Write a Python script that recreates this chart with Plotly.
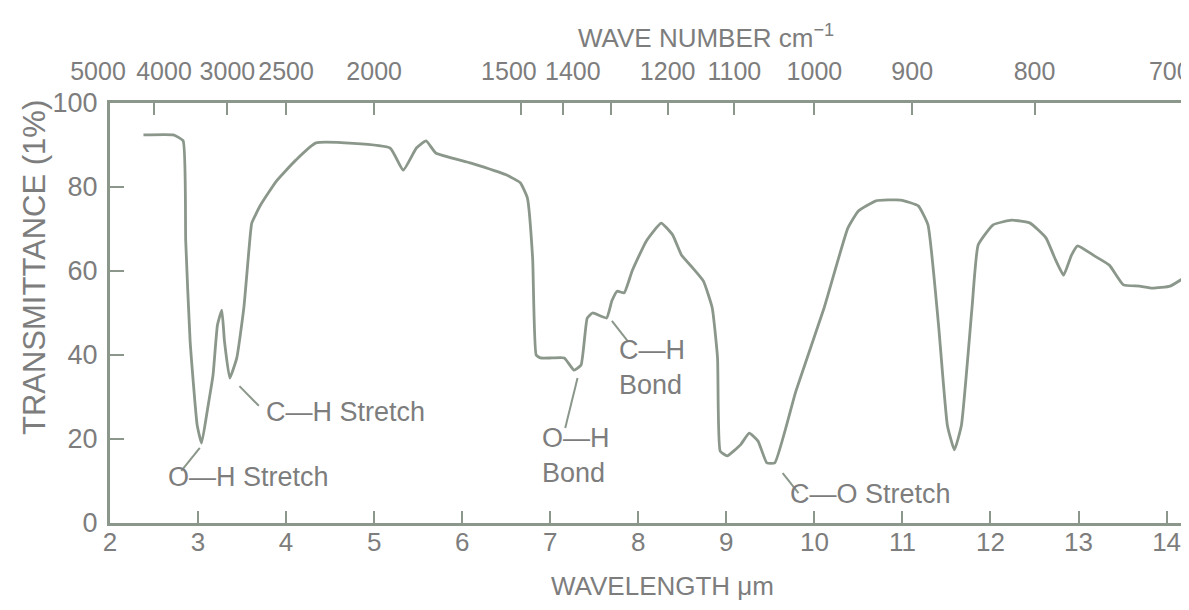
import plotly.graph_objects as go

# ---- data ----
wavelength_um = [2.38, 2.72, 2.83, 2.86, 2.91, 2.99, 3.04, 3.11, 3.17, 3.22, 3.27, 3.30, 3.36,
                 3.44, 3.52, 3.58, 3.61, 3.71, 3.89, 4.11, 4.34, 5.18, 5.33, 5.48, 5.59, 5.70,
                 6.10, 6.50, 6.66, 6.74, 6.80, 6.84, 6.89, 7.02, 7.16, 7.27, 7.35, 7.42, 7.48,
                 7.64, 7.70, 7.76, 7.84, 7.93, 8.09, 8.26, 8.39, 8.49, 8.62, 8.74, 8.84, 8.90,
                 8.93, 9.01, 9.16, 9.26, 9.36, 9.46, 9.55, 9.79, 10.11, 10.38, 10.50, 10.70,
                 10.98, 11.18, 11.29, 11.41, 11.51, 11.59, 11.67, 11.79, 11.86, 12.03, 12.24,
                 12.45, 12.63, 12.73, 12.83, 12.92, 12.99, 13.18, 13.35, 13.51, 13.69, 13.84,
                 14.04, 14.23]
transmittance = [92.4, 92.4, 91.0, 67.1, 43.3, 23.3, 19.0, 27.4, 35.2, 47.1, 50.7, 43.3, 34.5,
                 39.3, 51.2, 65.5, 71.4, 75.7, 81.4, 86.4, 90.5, 89.3, 84.0, 89.3, 91.0, 88.1,
                 85.7, 82.9, 81.0, 77.4, 63.1, 40.0, 39.3, 39.3, 39.3, 36.4, 37.6, 48.8, 50.0,
                 48.8, 52.9, 55.2, 54.8, 60.0, 67.1, 71.4, 68.6, 63.8, 60.7, 57.6, 51.2, 39.3,
                 17.1, 16.0, 18.6, 21.4, 19.5, 14.3, 14.3, 31.4, 51.2, 70.2, 74.3, 76.7,
                 76.9, 75.5, 71.0, 47.1, 23.3, 17.4, 23.3, 51.2, 66.2, 71.0, 72.1,
                 71.4, 67.9, 63.1, 59.0, 63.8, 66.0, 63.6, 61.4, 56.7, 56.4, 55.9,
                 56.4, 58.8]

bottom_ticks = [2, 3, 4, 5, 6, 7, 8, 9, 10, 11, 12, 13, 14]
y_ticks = [0, 20, 40, 60, 80, 100]
# top axis: wave numbers (cm^-1); tick marks at all, labels in groups
wavenumber_ticks = [4000, 3000, 2500, 2000, 1500, 1400, 1300, 1200, 1100, 1000, 900, 800, 700]
wn_labels_plain = [3000, 2500, 2000, 1200, 1100, 1000, 900, 800]
wn_labels_right = [4000, 1400]   # crowded pairs: nudged apart
wn_labels_left = [5000, 1500]
wn_labels_edge = [700]           # at the right edge: nudged inside

# annotation labels: (text, x, y, align)
labels = [
    ("O—H Stretch", 3.57, 11.0, "center"),
    ("C—H Stretch", 4.67, 26.5, "center"),
    ("O—H<br>Bond", 6.88, 16.0, "left"),
    ("C—H<br>Bond", 7.76, 37.0, "left"),
    ("C—O Stretch", 9.70, 7.0, "left"),
]
# leader lines: (x0, y0, x1, y1)
leaders = [
    (2.81, 12.4, 3.02, 17.9),
    (3.47, 32.6, 3.69, 27.9),
    (7.31, 34.5, 7.17, 22.6),
    (7.70, 48.1, 7.88, 43.3),
    (9.64, 11.9, 9.82, 7.1),
]

X_RANGE = [2, 14.3]
LINE = "#8b978b"
TEXT = "#7d7d7d"
FONT = "Liberation Sans, Arial, sans-serif"

fig = go.Figure()
fig.add_trace(go.Scatter(x=wavelength_um, y=transmittance, mode="lines",
                         line=dict(color=LINE, width=2.8, shape="spline", smoothing=0.4),
                         showlegend=False, hoverinfo="skip"))
# invisible anchors for the top axes
for ax in ["x2", "x3", "x4", "x5", "x6"]:
    fig.add_trace(go.Scatter(x=[X_RANGE[0]], y=[0], xaxis=ax, mode="markers",
                             marker=dict(opacity=0), showlegend=False, hoverinfo="skip"))

for t, x, y, al in labels:
    fig.add_annotation(x=x, y=y, xref="x", yref="y", text=t, showarrow=False,
                       align=al, xanchor="left" if al == "left" else "center",
                       font=dict(size=27, color=TEXT, family=FONT))
for x0, y0, x1, y1 in leaders:
    fig.add_shape(type="line", x0=x0, y0=y0, x1=x1, y1=y1, xref="x", yref="y",
                  line=dict(color=LINE, width=2))

fig.add_annotation(x=0.55, y=1, xref="paper", yref="paper", yshift=48,
                   text="WAVE NUMBER cm<sup>−1</sup>", showarrow=False,
                   xanchor="center", yanchor="bottom",
                   font=dict(size=26, color=TEXT, family=FONT))
fig.add_annotation(x=0, y=0.607, xref="paper", yref="paper", xshift=-76,
                   text="TRANSMITTANCE (1%)", showarrow=False, textangle=-90,
                   xanchor="center", yanchor="middle",
                   font=dict(size=31, color=TEXT, family=FONT))
fig.add_annotation(x=0.51, y=0, xref="paper", yref="paper", yshift=-46,
                   text="WAVELENGTH μm", showarrow=False,
                   xanchor="center", yanchor="top",
                   font=dict(size=26, color=TEXT, family=FONT))


def top_label_axis(vals, shift):
    return dict(range=X_RANGE, overlaying="x", side="top", tickangle=0, automargin=False,
                tickvals=[10000 / w for w in vals], ticktext=[str(w) for w in vals],
                ticks="", showline=False, showgrid=False, zeroline=False,
                tickfont=dict(size=25, color=TEXT), ticklabelstandoff=17,
                ticklabelshift=shift, ticklabeloverflow="allow")


fig.update_layout(
    width=1189, height=610,
    margin=dict(l=102, r=4, t=95, b=95, autoexpand=False),
    paper_bgcolor="white", plot_bgcolor="white",
    font=dict(family=FONT, color=TEXT, size=26),
    xaxis=dict(range=X_RANGE, tickvals=bottom_ticks, ticks="inside", ticklen=12,
               tickwidth=2, tickcolor=LINE, showline=True, linecolor=LINE, linewidth=3,
               showgrid=False, zeroline=False, tickfont=dict(size=26, color=TEXT),
               ticklabelstandoff=-6, automargin=False),
    xaxis2=dict(range=X_RANGE, overlaying="x", side="top", automargin=False,
                tickvals=[10000 / w for w in wavenumber_ticks], showticklabels=False,
                ticks="inside", ticklen=12, tickwidth=2, tickcolor=LINE,
                showline=True, linecolor=LINE, linewidth=3, showgrid=False, zeroline=False),
    xaxis3=top_label_axis(wn_labels_plain, 0),
    xaxis4=top_label_axis(wn_labels_right, 10),
    xaxis5=top_label_axis(wn_labels_left, -12),
    xaxis6=top_label_axis(wn_labels_edge, -22),
    yaxis=dict(range=[0, 100], tickvals=y_ticks, ticks="inside", ticklen=14, tickwidth=2,
               tickcolor=LINE, showline=True, linecolor=LINE, linewidth=3, showgrid=False,
               zeroline=False, tickfont=dict(size=27, color=TEXT), ticklabelstandoff=4,
               automargin=False),
)

fig.write_html("out.html")
